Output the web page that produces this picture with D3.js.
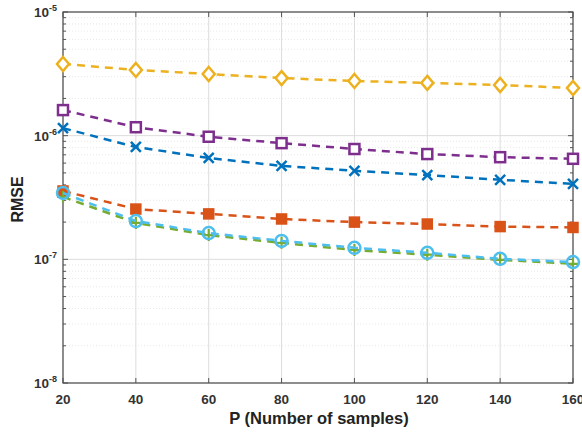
<!DOCTYPE html>
<html>
<head>
<meta charset="utf-8">
<script src="https://cdn.jsdelivr.net/npm/d3@7"></script>
<style>
  body { margin: 0; background: #fff; }
  text { font-family: "Liberation Sans", Arial, sans-serif; }
</style>
</head>
<body>
<div id="chart"></div>
<script>
// data
var pValues = [20, 40, 60, 80, 100, 120, 140, 160];
var xTicks = [20, 40, 60, 80, 100, 120, 140, 160];
var yDecades = [-8, -7, -6, -5];

var blueX     = [1.15e-6, 8.1e-7, 6.6e-7, 5.7e-7, 5.2e-7, 4.8e-7, 4.4e-7, 4.07e-7];
var orangeSq  = [3.57e-7, 2.55e-7, 2.33e-7, 2.12e-7, 2.0e-7, 1.93e-7, 1.84e-7, 1.81e-7];
var yellowDia = [3.8e-6, 3.4e-6, 3.15e-6, 2.92e-6, 2.77e-6, 2.67e-6, 2.57e-6, 2.43e-6];
var purpleSq  = [1.61e-6, 1.17e-6, 9.8e-7, 8.7e-7, 7.8e-7, 7.1e-7, 6.7e-7, 6.5e-7];
var greenPlus = [3.2e-7, 1.97e-7, 1.57e-7, 1.36e-7, 1.19e-7, 1.09e-7, 9.9e-8, 9.2e-8];
var cyanCirc  = [3.44e-7, 2.04e-7, 1.63e-7, 1.41e-7, 1.24e-7, 1.13e-7, 1.01e-7, 9.5e-8];

var series = [
  {vals: blueX,     color: "#0072BD", marker: "x"},
  {vals: orangeSq,  color: "#D95319", marker: "squareFill"},
  {vals: yellowDia, color: "#EDB120", marker: "diamond"},
  {vals: purpleSq,  color: "#7E2F8E", marker: "square"},
  {vals: greenPlus, color: "#77AC30", marker: "plus"},
  {vals: cyanCirc,  color: "#4DBEEE", marker: "circle"}
];

var W = 582, H = 433;
var margin = {top: 12, right: 9, bottom: 50, left: 63};
var width = W - margin.left - margin.right,
    height = H - margin.top - margin.bottom;

var svg = d3.select("#chart").append("svg")
    .attr("width", W).attr("height", H)
  .append("g")
    .attr("transform", "translate(" + margin.left + "," + margin.top + ")");

var x = d3.scaleLinear().domain([20, 160]).range([0, width]);
var y = d3.scaleLog().domain([1e-8, 1e-5]).range([height, 0]);

// minor grid
var minor = [];
for (var e = -8; e < -5; e++) {
  for (var k = 2; k <= 9; k++) minor.push(k * Math.pow(10, e));
}
svg.append("g").selectAll("line").data(minor).enter().append("line")
    .attr("x1", 0).attr("x2", width)
    .attr("y1", function(d) { return y(d); }).attr("y2", function(d) { return y(d); })
    .attr("stroke", "#e2e2e2").attr("stroke-width", 0.8)
    .attr("stroke-dasharray", "1,2");

// major grid
svg.append("g").selectAll("line").data(yDecades).enter().append("line")
    .attr("x1", 0).attr("x2", width)
    .attr("y1", function(d) { return y(Math.pow(10, d)); })
    .attr("y2", function(d) { return y(Math.pow(10, d)); })
    .attr("stroke", "#dcdcdc");
svg.append("g").selectAll("line").data(xTicks).enter().append("line")
    .attr("x1", function(d) { return x(d); }).attr("x2", function(d) { return x(d); })
    .attr("y1", 0).attr("y2", height)
    .attr("stroke", "#dcdcdc");

// ticks inside box
var tk = svg.append("g").attr("stroke", "#555").attr("stroke-width", 1);
xTicks.forEach(function(t) {
  tk.append("line").attr("x1", x(t)).attr("x2", x(t)).attr("y1", height).attr("y2", height - 5);
  tk.append("line").attr("x1", x(t)).attr("x2", x(t)).attr("y1", 0).attr("y2", 5);
});
yDecades.forEach(function(d) {
  var yy = y(Math.pow(10, d));
  tk.append("line").attr("x1", 0).attr("x2", 5).attr("y1", yy).attr("y2", yy);
  tk.append("line").attr("x1", width).attr("x2", width - 5).attr("y1", yy).attr("y2", yy);
});
minor.forEach(function(m) {
  tk.append("line").attr("x1", 0).attr("x2", 3).attr("y1", y(m)).attr("y2", y(m));
  tk.append("line").attr("x1", width).attr("x2", width - 3).attr("y1", y(m)).attr("y2", y(m));
});

// box
svg.append("rect").attr("x", 0).attr("y", 0).attr("width", width).attr("height", height)
    .attr("fill", "none").attr("stroke", "#4d4d4d").attr("stroke-width", 1.2);

// x tick labels
svg.append("g").selectAll("text").data(xTicks).enter().append("text")
    .attr("x", function(d) { return x(d); })
    .attr("y", height + 21)
    .attr("text-anchor", "middle")
    .attr("font-size", 13.5).attr("font-weight", "bold").attr("fill", "#333")
    .text(function(d) { return d; });

// y tick labels 10^n
var yl = svg.append("g").selectAll("text").data(yDecades).enter().append("text")
    .attr("x", -6)
    .attr("y", function(d) { return y(Math.pow(10, d)) + 5; })
    .attr("text-anchor", "end")
    .attr("font-size", 13.5).attr("font-weight", "bold").attr("fill", "#333");
yl.append("tspan").text("10");
yl.append("tspan").attr("dy", -6).attr("font-size", 9).text(function(d) { return d; });

// axis titles
svg.append("text")
    .attr("x", width / 2 + 1).attr("y", height + 41)
    .attr("text-anchor", "middle")
    .attr("font-size", 16.5).attr("font-weight", "bold").attr("fill", "#222")
    .text("P (Number of samples)");
svg.append("text")
    .attr("transform", "translate(-40," + (height / 2 + 2) + ") rotate(-90)")
    .attr("text-anchor", "middle")
    .attr("font-size", 16).attr("font-weight", "bold").attr("fill", "#222")
    .text("RMSE");

// lines + markers
var line = d3.line()
    .x(function(d, i) { return x(pValues[i]); })
    .y(function(d) { return y(d); });

series.forEach(function(s) {
  svg.append("path").datum(s.vals)
      .attr("d", line)
      .attr("fill", "none")
      .attr("stroke", s.color).attr("stroke-width", 2.5)
      .attr("stroke-dasharray", "8,6");

  var g = svg.append("g").selectAll("g").data(s.vals).enter().append("g")
      .attr("transform", function(d, i) { return "translate(" + x(pValues[i]) + "," + y(d) + ")"; });
  if (s.marker === "x") {
    g.append("path").attr("d", "M-5,-5L5,5M-5,5L5,-5")
        .attr("stroke", s.color).attr("stroke-width", 2.5);
  } else if (s.marker === "plus") {
    g.append("path").attr("d", "M-6,0L6,0M0,-6L0,6")
        .attr("stroke", s.color).attr("stroke-width", 2.2);
  } else if (s.marker === "squareFill") {
    g.append("rect").attr("x", -5).attr("y", -5).attr("width", 10).attr("height", 10)
        .attr("fill", s.color).attr("stroke", s.color).attr("stroke-width", 1.5);
  } else if (s.marker === "square") {
    g.append("rect").attr("x", -5).attr("y", -5).attr("width", 10).attr("height", 10)
        .attr("fill", "#fff").attr("stroke", s.color).attr("stroke-width", 2.5);
  } else if (s.marker === "diamond") {
    g.append("path").attr("d", "M0,-7L6,0L0,7L-6,0Z")
        .attr("fill", "#fff").attr("stroke", s.color).attr("stroke-width", 2.5);
  } else if (s.marker === "circle") {
    g.append("circle").attr("r", 6)
        .attr("fill", "none").attr("stroke", s.color).attr("stroke-width", 2.5);
  }
});
</script>
</body>
</html>
